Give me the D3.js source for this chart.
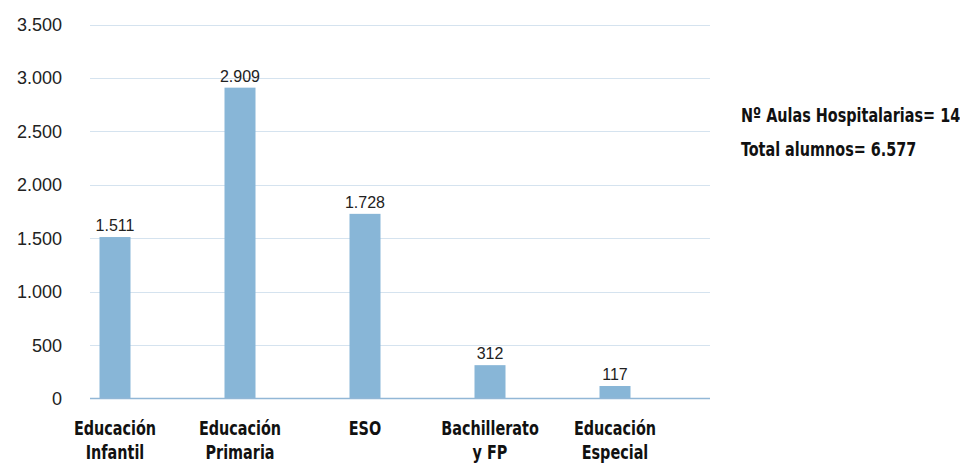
<!DOCTYPE html>
<html><head><meta charset="utf-8">
<script src="https://cdn.jsdelivr.net/npm/d3@7"></script>
<style>
html,body{margin:0;padding:0;background:#fff;}
svg{display:block;}
</style></head>
<body>
<svg id="chart" width="960" height="464"></svg>
<script>
const categories = [["Educación","Infantil"],["Educación","Primaria"],["ESO"],["Bachillerato","y FP"],["Educación","Especial"]];
const values = [1511, 2909, 1728, 312, 117];
const valueLabels = ["1.511","2.909","1.728","312","117"];
const yTicks = [0,500,1000,1500,2000,2500,3000,3500];
const notes = ["Nº Aulas Hospitalarias= 14","Total alumnos= 6.577"];

const svg = d3.select("#chart");
const x0 = 90, x1 = 710, yTop = 24.5, yBottom = 398.5;
const keys = categories.map((c,i)=>i);
const x = d3.scalePoint().domain(keys).range([115, 615]);
const y = d3.scaleLinear().domain([0,3500]).range([yBottom, yTop]);
const barW = 31;
const squeeze = 0.8;
const condFont = "'Liberation Sans Narrow', 'DejaVu Sans Condensed', sans-serif";
const fmt = v => d3.format(",")(v).replace(/,/g,".");

// gridlines
svg.append("g").selectAll("line").data(yTicks.filter(t=>t>0)).join("line")
  .attr("x1",x0).attr("x2",x1)
  .attr("y1",d=>Math.round(y(d))+0.5).attr("y2",d=>Math.round(y(d))+0.5)
  .attr("stroke","#d5e3ef").attr("stroke-width",1.2);

// y axis labels
svg.append("g").selectAll("text").data(yTicks).join("text")
  .attr("x",62).attr("y",d=>y(d)).attr("dy","0.36em")
  .attr("text-anchor","end")
  .attr("font-family","'Liberation Sans', Arial, sans-serif")
  .attr("font-size",18).attr("fill","#222")
  .text(fmt);

// bars
svg.append("g").selectAll("rect").data(values).join("rect")
  .attr("x",(d,i)=>x(i)-barW/2).attr("width",barW)
  .attr("y",d=>y(d)).attr("height",d=>y(0)-y(d))
  .attr("fill","#88b6d7");

// baseline
svg.append("line").attr("x1",x0).attr("x2",x1)
  .attr("y1",y(0)).attr("y2",y(0))
  .attr("stroke","#92b7d6").attr("stroke-width",1.5);

// value labels
svg.append("g").selectAll("text").data(values).join("text")
  .attr("x",(d,i)=>x(i)).attr("y",d=>y(d)-6)
  .attr("text-anchor","middle")
  .attr("font-family","'Liberation Sans', Arial, sans-serif")
  .attr("font-size",16).attr("fill","#222")
  .text((d,i)=>valueLabels[i]);

// category labels
const cat = svg.append("g").selectAll("text").data(categories).join("text")
  .attr("transform",(d,i)=>`translate(${x(i)},0) scale(${squeeze},1)`)
  .attr("text-anchor","middle")
  .attr("font-family",condFont)
  .attr("font-weight","bold").attr("font-size",20).attr("fill","#111");
cat.each(function(lines){
  d3.select(this).selectAll("tspan").data(lines).join("tspan")
    .attr("x",0).attr("y",(l,j)=>435+j*24).text(l=>l);
});

// notes
svg.append("g").selectAll("text").data(notes).join("text")
  .attr("transform",(d,i)=>`translate(741,${122+i*34}) scale(${squeeze},1)`)
  .attr("x",0).attr("y",0)
  .attr("font-family",condFont)
  .attr("font-weight","bold").attr("font-size",20).attr("fill","#111")
  .text(d=>d);
</script>
</body></html>
